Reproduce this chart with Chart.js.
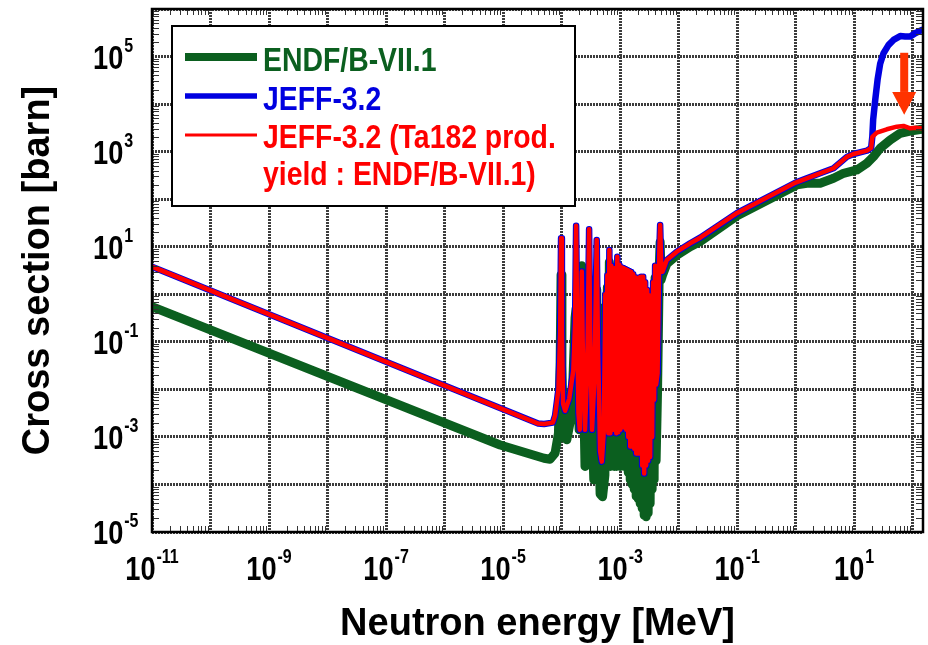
<!DOCTYPE html>
<html><head><meta charset="utf-8">
<script src="https://cdn.jsdelivr.net/npm/chart.js@4.4.1/dist/chart.umd.min.js"></script>
<style>html,body{margin:0;padding:0;background:#fff;overflow:hidden}</style>
</head><body>
<canvas id="c" width="928" height="645"></canvas>
<script>
// ---------- data (energy in MeV, cross section in barn) ----------
const seriesLabels = ['ENDF/B-VII.1', 'JEFF-3.2', 'JEFF-3.2 (Ta182 prod. yield : ENDF/B-VII.1)'];
const legendLines = [['ENDF/B-VII.1'], ['JEFF-3.2'], ['JEFF-3.2 (Ta182 prod.', 'yield : ENDF/B-VII.1)']];
const xTickExps = [-11, -9, -7, -5, -3, -1, 1];
const yTickExps = [-5, -3, -1, 1, 3, 5];
const xGridExps = [-11, -10, -9, -8, -7, -6, -5, -4, -3, -2, -1, 0, 1, 2];
const yGridExps = [-5, -4, -3, -2, -1, 0, 1, 2, 3, 4, 5, 6];

// JEFF-3.2 : thermal + first resolved resonances
const jeffPreE = [1e-11, 3.98e-5, 5.01e-5, 7.08e-5, 7.74e-5, 8.83e-5, 9.44e-5, 9.79e-5, 1.012e-4, 1.059e-4, 1.148e-4, 1.349e-4, 1.585e-4, 1.698e-4, 1.770e-4, 1.841e-4, 1.941e-4, 2.042e-4, 2.138e-4, 2.213e-4, 2.291e-4, 2.512e-4, 2.754e-4, 2.951e-4, 3.090e-4, 3.311e-4, 3.631e-4, 3.981e-4, 4.169e-4, 4.550e-4, 4.864e-4, 5.248e-4];
const jeffPreXS = [3.80, 1.905e-3, 1.862e-3, 1.995e-3, 2.818e-3, 1.0e-2, 0.158, 15.1, 0.158, 5.01e-3, 3.55e-3, 6.31e-3, 2.51e-2, 0.251, 27.5, 0.316, 3.16e-3, 1.41e-3, 0.1, 3.02, 0.1, 1.41e-3, 3.16e-2, 23.4, 0.1, 1.41e-3, 1.58e-2, 13.8, 0.1, 5.01e-4, 3.02e-4, 1.26e-3];

// dense resonance region (shared energy grid)
const denseE = [5.598e-4, 5.821e-4, 6.054e-4, 6.295e-4, 6.547e-4, 6.808e-4, 7.080e-4, 7.362e-4, 7.656e-4, 7.962e-4, 8.279e-4, 8.610e-4, 8.954e-4, 9.311e-4, 9.683e-4, 1.0069e-3, 1.0471e-3, 1.0889e-3, 1.1324e-3, 1.1776e-3, 1.2246e-3, 1.2735e-3, 1.3243e-3, 1.3772e-3, 1.4322e-3, 1.4894e-3, 1.5488e-3, 1.6106e-3, 1.6749e-3, 1.7418e-3, 1.8113e-3, 1.8836e-3, 1.9588e-3, 2.0370e-3, 2.1183e-3, 2.2029e-3, 2.2908e-3, 2.3823e-3, 2.4774e-3, 2.5763e-3, 2.6792e-3, 2.7861e-3, 2.8974e-3, 3.0130e-3, 3.1333e-3, 3.2584e-3, 3.3885e-3, 3.5238e-3, 3.6645e-3, 3.8108e-3, 3.9629e-3, 4.1211e-3];
const jeffDenseXS = [1.0, 1.41e-3, 2.51, 1.20e-3, 8.51, 1.20e-3, 3.98, 1.41e-3, 2.75, 1.41e-3, 3.55, 1.20e-3, 6.17, 1.26e-3, 4.17, 1.41e-3, 3.72, 1.66e-3, 3.55, 1.58e-3, 3.39, 1.41e-3, 3.24, 1.0e-3, 3.09, 6.31e-4, 2.95, 6.31e-4, 2.63, 5.62e-4, 2.29, 4.47e-4, 2.0, 4.47e-4, 2.24, 4.47e-4, 2.34, 2.51e-4, 2.34, 1.70e-4, 1.78, 2.51e-4, 1.23, 3.16e-4, 0.955, 3.80e-4, 0.891, 1.0e-3, 1.78, 6.03e-3, 3.98, 1.26e-2];
const endfDenseXS = [0.562, 2.82e-4, 1.41, 2.40e-4, 4.79, 2.40e-4, 2.24, 2.51e-4, 1.58, 2.40e-4, 2.0, 2.40e-4, 3.55, 2.51e-4, 2.34, 2.40e-4, 2.09, 2.51e-4, 2.0, 2.40e-4, 1.91, 2.40e-4, 1.82, 1.78e-4, 1.74, 1.26e-4, 1.66, 1.0e-4, 1.48, 7.94e-5, 1.29, 5.62e-5, 1.12, 5.01e-5, 1.26, 3.98e-5, 1.32, 3.16e-5, 1.32, 2.24e-5, 1.0, 2.09e-5, 0.692, 2.51e-5, 0.537, 3.98e-5, 0.501, 7.94e-5, 1.0, 1.26e-4, 2.24, 3.16e-4];

// JEFF-3.2 : last resonance + continuum up to 20 MeV
const jeffPostE = [4.365e-3, 4.677e-3, 4.83e-3, 5.01e-3, 5.30e-3, 6.28e-3, 9.31e-3, 1.574e-2, 2.333e-2, 0.1, 1.0, 1.549, 4.436, 7.50, 9.75, 16.48, 19.5];
const jeffPostXS = [2.19e-2, 7.94, 28.8, 5.01, 2.99, 5.26, 7.87, 11.8, 15.5, 51.3, 224, 275, 447, 776, 891, 1047, 1202];

// above 20 MeV : JEFF-3.2 (blue) and JEFF-3.2 with ENDF Ta182 yield (red)
const jeffTailE = [20.4, 21.1, 22.9, 25.1, 27.8, 31.7, 38.5, 47.0, 61.1, 74.4, 90.6, 110.4, 143.6];
const jeffTailXS = [2042, 4677, 12300, 32400, 70800, 117500, 173800, 223900, 269200, 263000, 263000, 309000, 363000];
const yieldTailE = [20.4, 24.4, 36.1, 53.6, 69.7, 90.6, 117.8, 143.6];
const yieldTailXS = [2042, 2512, 2951, 3350, 3467, 3090, 3162, 3090];

// ENDF/B-VII.1
const endfPreE = [1e-11, 8.91e-6, 5.01e-5, 6.35e-5, 7.74e-5, 8.83e-5, 9.44e-5, 9.79e-5, 1.012e-4, 1.074e-4, 1.230e-4, 1.493e-4, 1.698e-4, 1.770e-4, 1.841e-4, 1.995e-4, 2.138e-4, 2.213e-4, 2.291e-4, 2.512e-4, 2.754e-4, 2.951e-4, 3.090e-4, 3.548e-4, 3.981e-4, 4.169e-4, 4.550e-4, 5.012e-4, 5.495e-4];
const endfPreXS = [0.55, 6.76e-4, 3.55e-4, 3.39e-4, 4.57e-4, 1.20e-3, 3.16e-2, 2.57, 3.16e-2, 1.0e-3, 8.71e-4, 3.16e-3, 0.316, 0.501, 3.16e-2, 1.41e-3, 0.1, 3.98, 0.1, 2.40e-4, 1.0e-2, 2.0, 3.16e-2, 1.26e-4, 1.26, 1.0e-2, 6.31e-5, 5.50e-5, 1.58e-4];
const endfPostE = [4.365e-3, 4.677e-3, 4.83e-3, 5.01e-3, 5.30e-3, 6.28e-3, 9.31e-3, 1.574e-2, 2.333e-2, 0.1, 1.05, 1.556, 2.624, 4.436, 6.577, 11.12, 16.48, 21.38, 27.80, 41.21, 61.09, 90.57, 143.6];
const endfPostXS = [1.0e-2, 3.98, 12.6, 2.0, 2.51, 4.37, 6.61, 10.0, 12.9, 44.7, 199.5, 215.8, 215.8, 275.4, 350.8, 411.1, 568.9, 783.4, 1175, 1758, 2432, 2716, 2951];

// annotation arrow (data space)
const arrowE = 71.6, arrowTopXS = 1.2e5, arrowNeckXS = 1.8e4, arrowTipXS = 6.0e3;

// ---------- build series ----------
const pts = (E, S) => E.map((e, i) => ({x: e, y: S[i]}));
const jeffCommon = [...pts(jeffPreE, jeffPreXS), ...pts(denseE, jeffDenseXS), ...pts(jeffPostE, jeffPostXS)];
const blueData = [...jeffCommon, ...pts(jeffTailE, jeffTailXS)];
const redData = [...jeffCommon, ...pts(yieldTailE, yieldTailXS)];
const greenData = [...pts(endfPreE, endfPreXS), ...pts(denseE, endfDenseXS), ...pts(endfPostE, endfPostXS)];

const GREEN = '#0b5f1f', BLUE = '#0000e0', RED = '#ff0000';
const FONT = '"Liberation Sans", Arial, Helvetica, sans-serif';

const common = {showLine: true, pointRadius: 0, tension: 0, fill: false, borderJoinStyle: 'round', borderCapStyle: 'round'};

function drawPow(ctx, exp, x, baseY, centered) {
  const sx = 0.8;
  const big = 'bold 34px ' + FONT, small = 'bold 20px ' + FONT;
  ctx.font = big; const wb = ctx.measureText('10').width * sx;
  ctx.font = small; const we = ctx.measureText(String(exp)).width * sx;
  const gap = 1;
  const left = centered ? x - (wb + gap + we) / 2 : x;
  ctx.save();
  ctx.translate(left, baseY); ctx.scale(sx, 1);
  ctx.fillStyle = '#000'; ctx.textAlign = 'left'; ctx.textBaseline = 'alphabetic';
  ctx.font = big; ctx.fillText('10', 0, 0);
  ctx.font = small; ctx.fillText(String(exp), (wb + gap) / sx, -17);
  ctx.restore();
}

const decor = {
  id: 'decor',
  afterDraw(chart) {
    const {ctx, chartArea: a, scales: {x, y}} = chart;
    ctx.save();
    // minor ticks (inside, all four sides)
    ctx.strokeStyle = '#333'; ctx.lineWidth = 1;
    ctx.beginPath();
    for (let d = -11; d <= 2; d++) for (let m = 2; m <= 9; m++) {
      const px = Math.round(x.getPixelForValue(m * Math.pow(10, d))) + 0.5;
      if (px < a.left || px > a.right) continue;
      ctx.moveTo(px, a.bottom); ctx.lineTo(px, a.bottom - 6);
      ctx.moveTo(px, a.top); ctx.lineTo(px, a.top + 6);
    }
    for (let d = -5; d <= 5; d++) for (let m = 2; m <= 9; m++) {
      const py = Math.round(y.getPixelForValue(m * Math.pow(10, d))) + 0.5;
      if (py < a.top || py > a.bottom) continue;
      ctx.moveTo(a.left, py); ctx.lineTo(a.left + 7, py);
      ctx.moveTo(a.right, py); ctx.lineTo(a.right - 7, py);
    }
    ctx.stroke();
    // frame
    ctx.strokeStyle = '#000'; ctx.lineWidth = 2.5;
    ctx.strokeRect(a.left, a.top, a.right - a.left, a.bottom - a.top);
    // tick labels
    xTickExps.forEach(e => drawPow(ctx, e, x.getPixelForValue(Math.pow(10, e)), a.bottom + 48, true));
    yTickExps.forEach(e => drawPow(ctx, e, 93, y.getPixelForValue(Math.pow(10, e)) + 12, false));
    // arrow annotation
    const ax = x.getPixelForValue(arrowE);
    const yTop = y.getPixelForValue(arrowTopXS), yNeck = y.getPixelForValue(arrowNeckXS), yTip = y.getPixelForValue(arrowTipXS);
    ctx.fillStyle = '#ff3300';
    ctx.fillRect(ax - 4, yTop, 8, yNeck - yTop);
    ctx.beginPath(); ctx.moveTo(ax - 12, yNeck); ctx.lineTo(ax + 12, yNeck); ctx.lineTo(ax, yTip); ctx.closePath(); ctx.fill();
    // legend box
    const L = {l: 172, t: 26, r: 575, b: 206};
    ctx.fillStyle = '#fff'; ctx.fillRect(L.l, L.t, L.r - L.l, L.b - L.t);
    ctx.strokeStyle = '#000'; ctx.lineWidth = 2; ctx.strokeRect(L.l, L.t, L.r - L.l, L.b - L.t);
    const rows = [
      {c: GREEN, lw: 8, ly: 57, base: [71]},
      {c: BLUE, lw: 5.5, ly: 96, base: [110]},
      {c: RED, lw: 3, ly: 135, base: [148, 185]}
    ];
    rows.forEach((r, i) => {
      ctx.strokeStyle = r.c; ctx.lineWidth = r.lw; ctx.lineCap = 'butt';
      ctx.beginPath(); ctx.moveTo(185, r.ly); ctx.lineTo(257, r.ly); ctx.stroke();
      legendLines[i].forEach((t, k) => {
        ctx.save(); ctx.translate(263, r.base[k]); ctx.scale(0.86, 1);
        ctx.font = 'bold 33px ' + FONT; ctx.fillStyle = r.c; ctx.textBaseline = 'alphabetic';
        ctx.fillText(t, 0, 0); ctx.restore();
      });
    });
    ctx.restore();
  }
};

const gridCfg = {color: '#3c3c3c', lineWidth: 3, drawTicks: false};

new Chart(document.getElementById('c'), {
  type: 'scatter',
  data: {
    datasets: [
      {...common, label: seriesLabels[2], data: redData, borderColor: RED, borderWidth: 4.5, order: 0},
      {...common, label: seriesLabels[1], data: blueData, borderColor: BLUE, borderWidth: 6.5, order: 1},
      {...common, label: seriesLabels[0], data: greenData, borderColor: GREEN, borderWidth: 9, order: 2}
    ]
  },
  options: {
    responsive: false, animation: false, devicePixelRatio: 1,
    layout: {padding: {top: 9, right: 5, left: 0, bottom: 0}},
    plugins: {legend: {display: false}, tooltip: {enabled: false}},
    scales: {
      x: {
        type: 'logarithmic', min: 1e-11, max: 150,
        afterBuildTicks: s => { s.ticks = xGridExps.map(e => ({value: Math.pow(10, e)})); },
        afterFit: s => { s.height = 113; },
        ticks: {display: false},
        grid: gridCfg,
        border: {display: false, dash: [2, 1]},
        title: {display: true, text: 'Neutron energy [MeV]', color: '#000', padding: {top: 0, bottom: 0},
                font: {family: FONT, size: 38, weight: 'bold', lineHeight: 1.1}}
      },
      y: {
        type: 'logarithmic', min: 1e-5, max: 1e6,
        afterBuildTicks: s => { s.ticks = yGridExps.map(e => ({value: Math.pow(10, e)})); },
        afterFit: s => { s.width = 152; },
        ticks: {display: false},
        grid: gridCfg,
        border: {display: false, dash: [2, 1]},
        title: {display: true, text: 'Cross section [barn]', color: '#000', padding: {top: 16, bottom: 0},
                font: {family: FONT, size: 38, weight: 'bold', lineHeight: 1.2}}
      }
    }
  },
  plugins: [decor]
});
</script>
</body></html>
